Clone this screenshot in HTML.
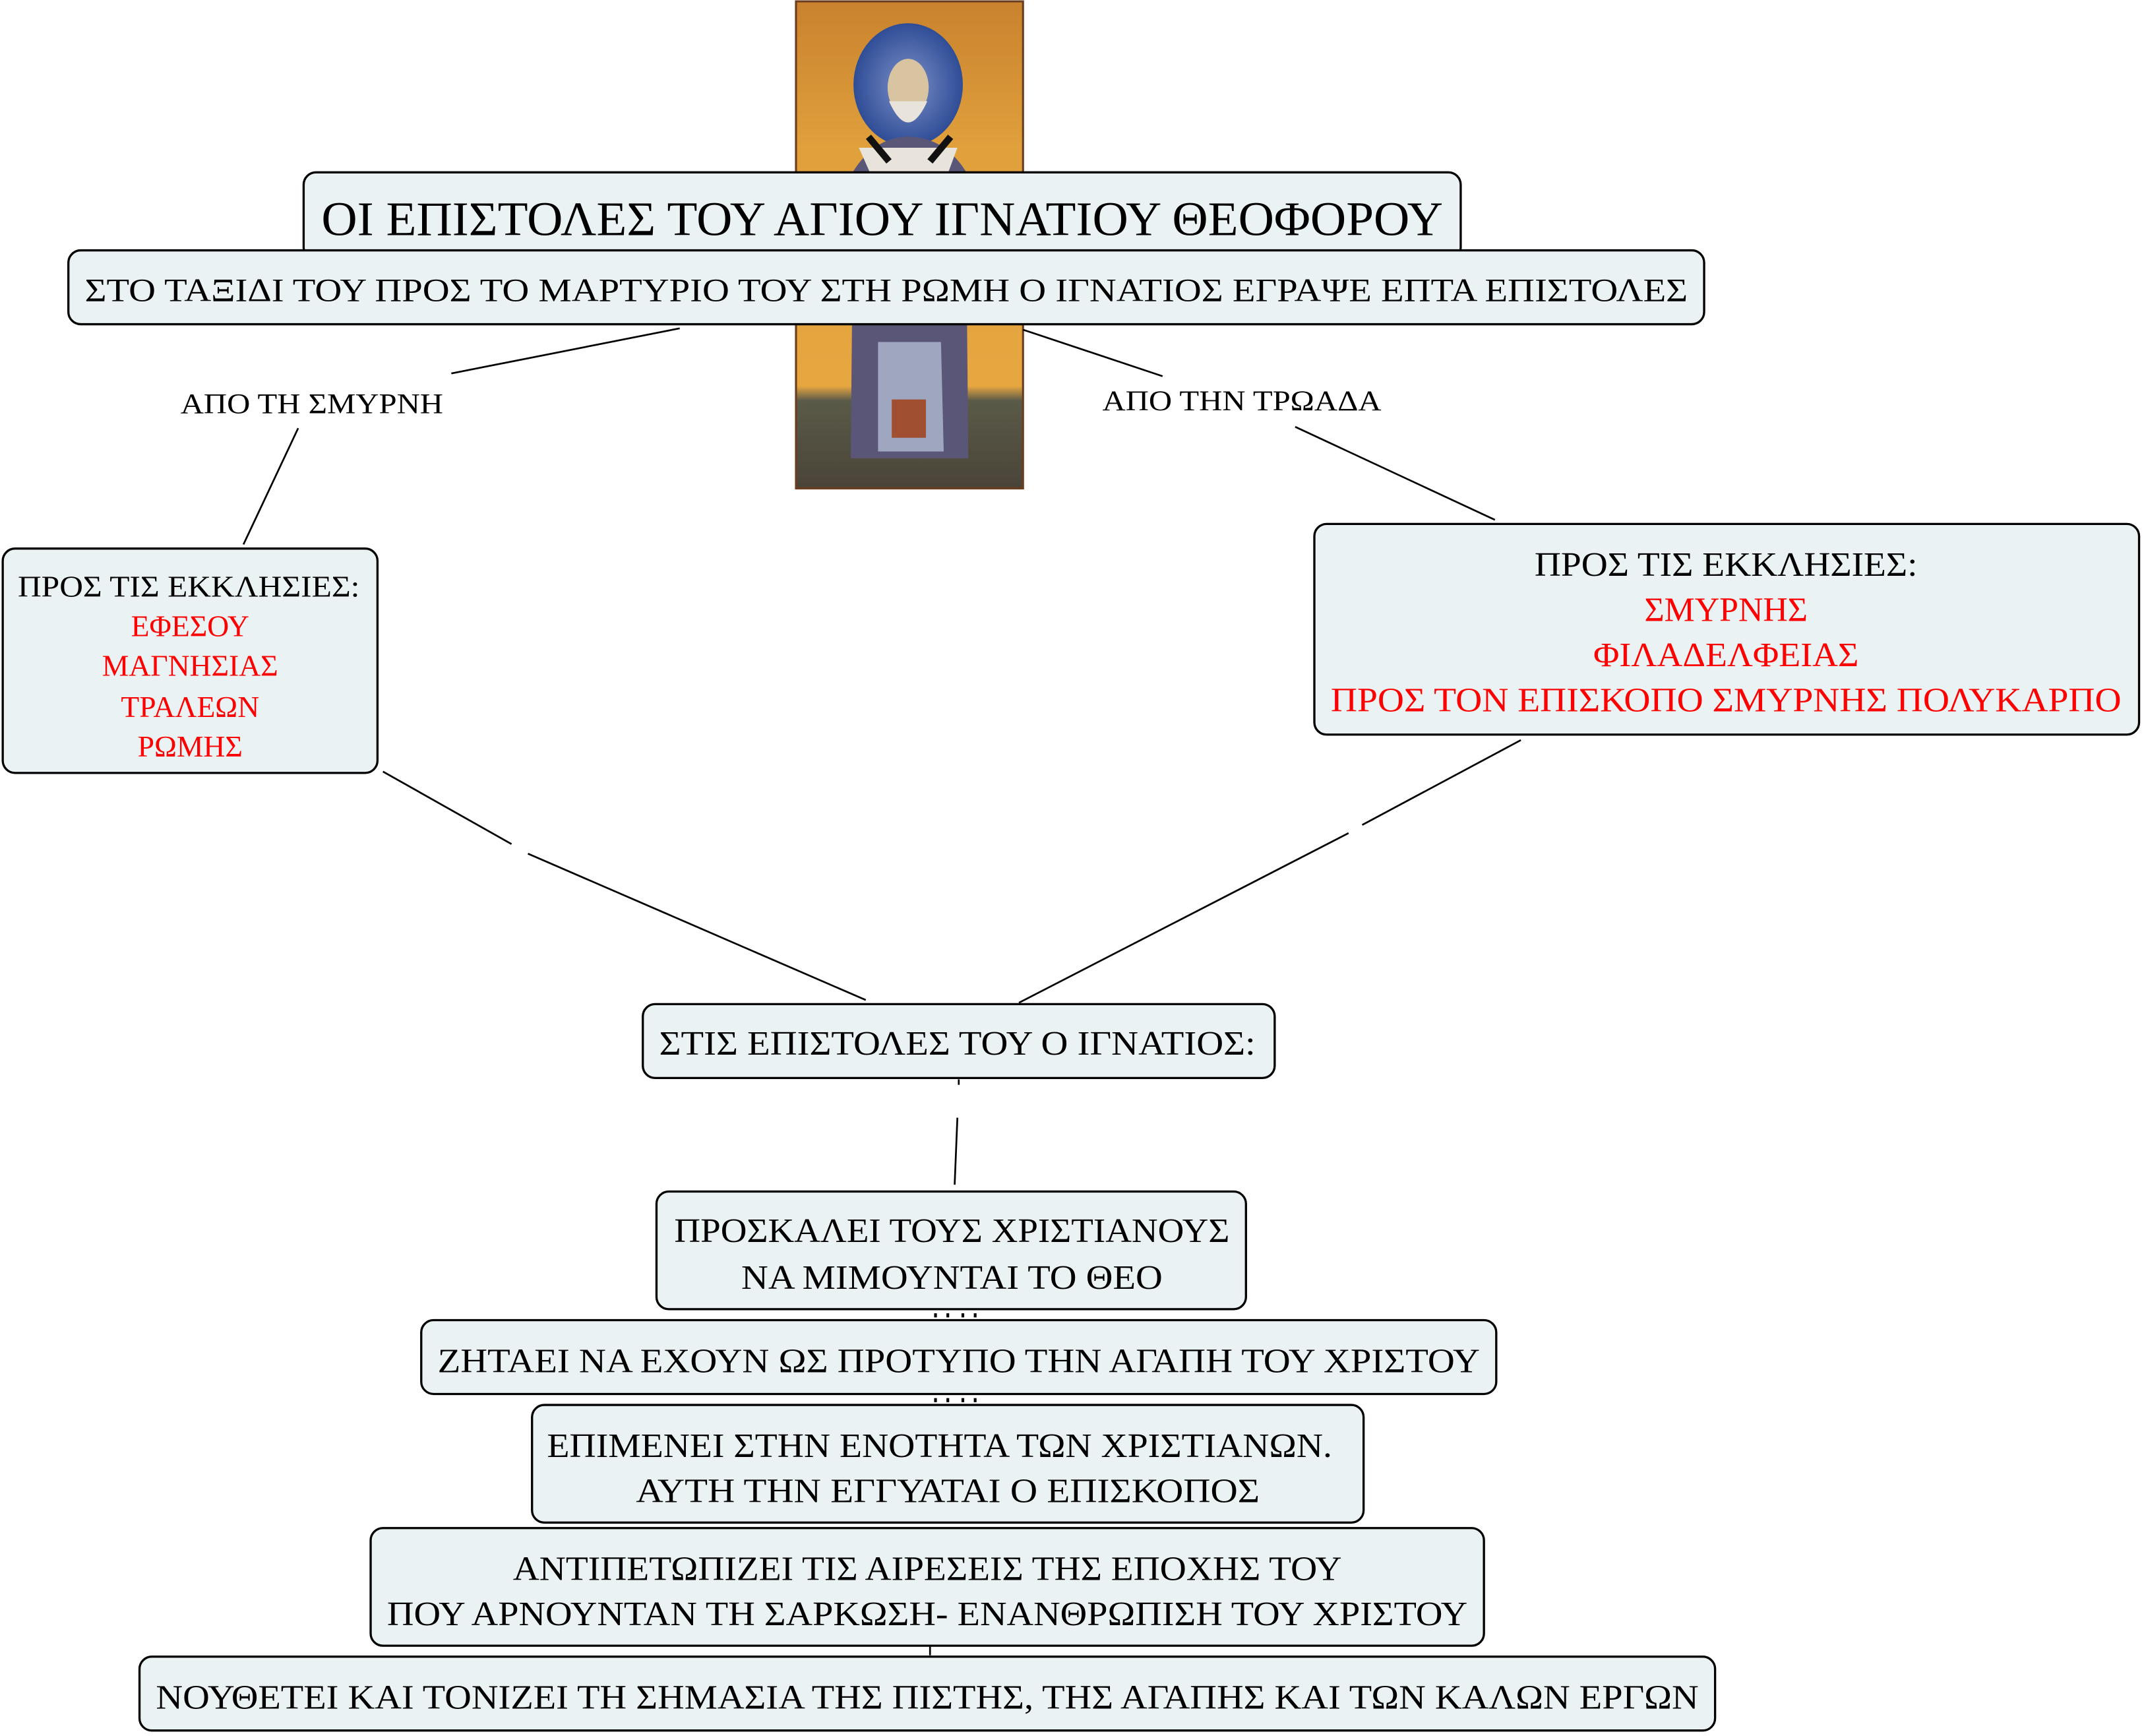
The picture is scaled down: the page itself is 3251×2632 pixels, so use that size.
<!DOCTYPE html>
<html><head><meta charset="utf-8">
<style>html,body{margin:0;padding:0;background:#fff;}svg{display:block;}</style>
</head><body>
<svg width="3251" height="2632" viewBox="0 0 1567.6 1269" preserveAspectRatio="none" xmlns="http://www.w3.org/2000/svg" font-family="'Liberation Serif', 'DejaVu Serif', serif">
<defs>
<linearGradient id="bg" x1="0" y1="0" x2="0" y2="1">
<stop offset="0" stop-color="#c9822e"/><stop offset="0.3" stop-color="#e0a03c"/><stop offset="0.79" stop-color="#e6a640"/><stop offset="0.82" stop-color="#5a5a48"/><stop offset="1" stop-color="#4a4438"/>
</linearGradient>
<radialGradient id="halo"><stop offset="0" stop-color="#7d90c8"/><stop offset="1" stop-color="#2f4d96"/></radialGradient>
</defs>
<rect x="582" y="1" width="166" height="356" fill="url(#bg)"/>
<rect x="582" y="1" width="166" height="356" fill="none" stroke="#6b3d1e" stroke-width="1.5"/>
<ellipse cx="664" cy="62" rx="40" ry="45" fill="url(#halo)"/>
<path d="M624 125 Q640 100 664 100 Q690 100 706 125 L708 335 L622 335 Z" fill="#5a5678"/>
<path d="M642 250 L688 250 L690 330 L642 330 Z" fill="#9ea6c0"/>
<rect x="652" y="292" width="25" height="28" fill="#a05030"/>
<ellipse cx="664" cy="64" rx="15" ry="21" fill="#d8c4a0"/>
<path d="M650 74 Q664 105 678 74 Z" fill="#e8e4dc"/>
<path d="M628 108 L700 108 L690 135 L640 135 Z" fill="#e8e4dc"/>
<path d="M635 100 L650 118 M695 100 L680 118" stroke="#111" stroke-width="5"/>

<g stroke="#000" stroke-width="1.3" fill="none">
<line x1="497" y1="240" x2="330" y2="273"/>
<line x1="218" y1="313" x2="178" y2="398"/>
<line x1="748" y1="241" x2="850" y2="275"/>
<line x1="947" y1="312" x2="1093" y2="380"/>
<line x1="280" y1="564" x2="374" y2="617"/>
<line x1="386" y1="624" x2="633" y2="731"/>
<line x1="1112" y1="541" x2="996" y2="603"/>
<line x1="986" y1="609" x2="745" y2="733"/>
<line x1="701" y1="789" x2="701" y2="793"/>
<line x1="700" y1="817" x2="698" y2="866"/>
<line x1="680" y1="1203" x2="680" y2="1210"/>
</g>
<g fill="#000">
<rect x="683" y="960" width="2" height="3"/><rect x="692" y="960" width="2" height="3"/><rect x="703" y="960" width="2" height="3"/><rect x="712" y="960" width="2" height="3"/>
<rect x="683" y="1022" width="2" height="3"/><rect x="692" y="1022" width="2" height="3"/><rect x="703" y="1022" width="2" height="3"/><rect x="712" y="1022" width="2" height="3"/>
</g>

<g fill="#eaf2f4" stroke="#000" stroke-width="1.6">
<rect x="222" y="126" width="846" height="64" rx="9"/>
<rect x="50" y="183" width="1196" height="54" rx="9"/>
<rect x="2" y="401" width="274" height="164" rx="9"/>
<rect x="961" y="383" width="603" height="154" rx="9"/>
<rect x="470" y="734" width="462" height="54" rx="9"/>
<rect x="480" y="871" width="431" height="86" rx="9"/>
<rect x="308" y="965" width="786" height="54" rx="9"/>
<rect x="389" y="1027" width="608" height="86" rx="9"/>
<rect x="271" y="1117" width="814" height="86" rx="9"/>
<rect x="102" y="1211" width="1152" height="54" rx="9"/>
</g>

<g text-anchor="middle" fill="#000">
<text x="645" y="172" font-size="35" textLength="820" lengthAdjust="spacingAndGlyphs">ΟΙ ΕΠΙΣΤΟΛΕΣ ΤΟΥ ΑΓΙΟΥ ΙΓΝΑΤΙΟΥ ΘΕΟΦΟΡΟΥ</text>
<text x="648" y="220" font-size="24" textLength="1172" lengthAdjust="spacingAndGlyphs">ΣΤΟ ΤΑΞΙΔΙ ΤΟΥ ΠΡΟΣ ΤΟ ΜΑΡΤΥΡΙΟ ΤΟΥ ΣΤΗ ΡΩΜΗ Ο ΙΓΝΑΤΙΟΣ ΕΓΡΑΨΕ ΕΠΤΑ ΕΠΙΣΤΟΛΕΣ</text>
<text x="228" y="302" font-size="21" textLength="192" lengthAdjust="spacingAndGlyphs">ΑΠΟ ΤΗ ΣΜΥΡΝΗ</text>
<text x="908" y="300" font-size="21" textLength="204" lengthAdjust="spacingAndGlyphs">ΑΠΟ ΤΗΝ ΤΡΩΑΔΑ</text>
<text x="138" y="436" font-size="22" textLength="250" lengthAdjust="spacingAndGlyphs">ΠΡΟΣ ΤΙΣ ΕΚΚΛΗΣΙΕΣ:</text>
<g fill="#f00" font-size="22">
<text x="139" y="465">ΕΦΕΣΟΥ</text>
<text x="139" y="494">ΜΑΓΝΗΣΙΑΣ</text>
<text x="139" y="524">ΤΡΑΛΕΩΝ</text>
<text x="139" y="553">ΡΩΜΗΣ</text>
</g>
<text x="1262" y="421" font-size="25" textLength="280" lengthAdjust="spacingAndGlyphs">ΠΡΟΣ ΤΙΣ ΕΚΚΛΗΣΙΕΣ:</text>
<g fill="#f00" font-size="25">
<text x="1262" y="454">ΣΜΥΡΝΗΣ</text>
<text x="1262" y="487" textLength="194" lengthAdjust="spacingAndGlyphs">ΦΙΛΑΔΕΛΦΕΙΑΣ</text>
<text x="1262" y="520" textLength="578" lengthAdjust="spacingAndGlyphs">ΠΡΟΣ ΤΟΝ ΕΠΙΣΚΟΠΟ ΣΜΥΡΝΗΣ ΠΟΛΥΚΑΡΠΟ</text>
</g>
<text x="700" y="771" font-size="25" textLength="436" lengthAdjust="spacingAndGlyphs">ΣΤΙΣ ΕΠΙΣΤΟΛΕΣ ΤΟΥ Ο ΙΓΝΑΤΙΟΣ:</text>
<text x="696" y="908" font-size="25" textLength="406" lengthAdjust="spacingAndGlyphs">ΠΡΟΣΚΑΛΕΙ ΤΟΥΣ ΧΡΙΣΤΙΑΝΟΥΣ</text>
<text x="696" y="942" font-size="25" textLength="308" lengthAdjust="spacingAndGlyphs">ΝΑ ΜΙΜΟΥΝΤΑΙ ΤΟ ΘΕΟ</text>
<text x="701" y="1003" font-size="25" textLength="762" lengthAdjust="spacingAndGlyphs">ΖΗΤΑΕΙ ΝΑ ΕΧΟΥΝ ΩΣ ΠΡΟΤΥΠΟ ΤΗΝ ΑΓΑΠΗ ΤΟΥ ΧΡΙΣΤΟΥ</text>
<text x="687" y="1065" font-size="25" textLength="574" lengthAdjust="spacingAndGlyphs">ΕΠΙΜΕΝΕΙ ΣΤΗΝ ΕΝΟΤΗΤΑ ΤΩΝ ΧΡΙΣΤΙΑΝΩΝ.</text>
<text x="693" y="1098" font-size="25" textLength="456" lengthAdjust="spacingAndGlyphs">ΑΥΤΗ ΤΗΝ ΕΓΓΥΑΤΑΙ Ο ΕΠΙΣΚΟΠΟΣ</text>
<text x="678" y="1155" font-size="25" textLength="606" lengthAdjust="spacingAndGlyphs">ΑΝΤΙΠΕΤΩΠΙΖΕΙ ΤΙΣ ΑΙΡΕΣΕΙΣ ΤΗΣ ΕΠΟΧΗΣ ΤΟΥ</text>
<text x="678" y="1188" font-size="25" textLength="790" lengthAdjust="spacingAndGlyphs">ΠΟΥ ΑΡΝΟΥΝΤΑΝ ΤΗ ΣΑΡΚΩΣΗ- ΕΝΑΝΘΡΩΠΙΣΗ ΤΟΥ ΧΡΙΣΤΟΥ</text>
<text x="678" y="1249" font-size="25" textLength="1128" lengthAdjust="spacingAndGlyphs">ΝΟΥΘΕΤΕΙ ΚΑΙ ΤΟΝΙΖΕΙ ΤΗ ΣΗΜΑΣΙΑ ΤΗΣ ΠΙΣΤΗΣ, ΤΗΣ ΑΓΑΠΗΣ ΚΑΙ ΤΩΝ ΚΑΛΩΝ ΕΡΓΩΝ</text>
</g>
</svg>
</body></html>
